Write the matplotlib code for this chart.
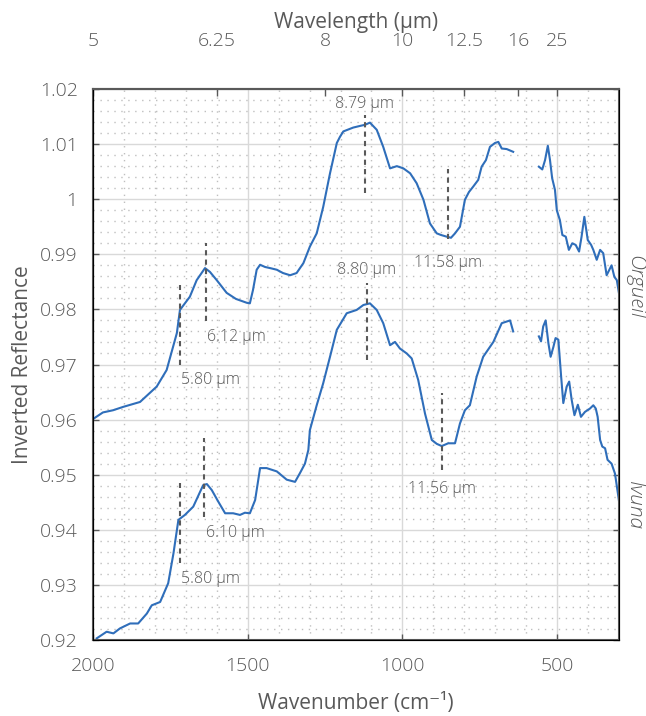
import numpy as np
import matplotlib
matplotlib.use('Agg')
import matplotlib.pyplot as plt
from matplotlib.ticker import MultipleLocator, FixedLocator

# Orgueil spectrum (wavenumber cm-1, inverted reflectance); NaN marks the gap
orgueil_wn = [2000, 1968, 1935, 1903, 1848, 1794, 1762, 1729, 1719, 1687, 1665, 1638, 1622, 1600,
              1568, 1538, 1503, 1493, 1483, 1471, 1460, 1444, 1428, 1406, 1386, 1363, 1342, 1320,
              1299, 1277, 1256, 1234, 1212, 1202, 1191, 1159, 1137, 1121, 1105, 1083, 1062, 1040,
              1018, 997, 975, 954, 932, 911, 889, 875, 857, 843, 830, 814, 798, 785, 771, 755,
              744, 730, 717, 701, 690, 679, 663, 642, 600,
              559, 548, 539, 530, 523, 516, 507, 501, 491, 483, 472, 462, 451, 440, 429, 421,
              412, 401, 390, 383, 372, 361, 351, 340, 324, 315, 307, 300]
orgueil_r = [0.9601, 0.9613, 0.9617, 0.9623, 0.9632, 0.9660, 0.9690, 0.9757, 0.9799, 0.9823,
             0.9853, 0.9875, 0.9868, 0.9853, 0.9830, 0.9819, 0.9812, 0.9811, 0.9835, 0.9872,
             0.9881, 0.9877, 0.9875, 0.9872, 0.9866, 0.9862, 0.9866, 0.9884, 0.9914, 0.9938,
             0.9986, 1.0047, 1.0102, 1.0113, 1.0123, 1.0130, 1.0133, 1.0135, 1.0139, 1.0126,
             1.0095, 1.0056, 1.0060, 1.0056, 1.0047, 1.0029, 0.9999, 0.9956, 0.9938, 0.9935,
             0.9932, 0.9930, 0.9938, 0.9950, 0.9999, 1.0013, 1.0023, 1.0035, 1.0059, 1.0071,
             1.0095, 1.0102, 1.0104, 1.0092, 1.0091, 1.0086, np.nan,
             1.0059, 1.0054, 1.0071, 1.0097, 1.0071, 1.0038, 1.0017, 0.9980, 0.9962, 0.9935,
             0.9932, 0.9908, 0.9920, 0.9917, 0.9905, 0.9932, 0.9968, 0.9926, 0.9917, 0.9908,
             0.9890, 0.9908, 0.9902, 0.9862, 0.9880, 0.9859, 0.9853, 0.9829]

# Ivuna spectrum
ivuna_wn = [1988, 1956, 1934, 1913, 1880, 1854, 1826, 1810, 1783, 1757, 1740, 1724, 1703, 1676,
            1644, 1632, 1616, 1595, 1573, 1547, 1525, 1509, 1493, 1476, 1460, 1439, 1406, 1374,
            1347, 1331, 1315, 1304, 1299, 1277, 1256, 1234, 1212, 1180, 1148, 1126, 1105, 1083,
            1062, 1040, 1024, 1008, 986, 970, 949, 927, 905, 889, 873, 852, 830, 814, 798, 782,
            760, 739, 706, 679, 652, 642, 600,
            559, 552, 545, 537, 528, 521, 512, 505, 496, 487, 480, 469, 461, 453, 444, 433, 423,
            410, 394, 383, 375, 369, 361, 354, 345, 337, 324, 313, 302, 300]
ivuna_r = [0.9203, 0.9215, 0.9212, 0.9221, 0.9230, 0.9230, 0.9248, 0.9263, 0.9269, 0.9303,
           0.9357, 0.9418, 0.9427, 0.9442, 0.9481, 0.9483, 0.9472, 0.9451, 0.9430, 0.9430,
           0.9427, 0.9431, 0.9430, 0.9454, 0.9512, 0.9512, 0.9506, 0.9491, 0.9487, 0.9503,
           0.9520, 0.9545, 0.9581, 0.9626, 0.9666, 0.9714, 0.9763, 0.9793, 0.9799, 0.9808,
           0.9811, 0.9799, 0.9775, 0.9735, 0.9741, 0.9729, 0.9720, 0.9711, 0.9672, 0.9611,
           0.9563, 0.9556, 0.9552, 0.9557, 0.9557, 0.9593, 0.9617, 0.9626, 0.9678, 0.9714,
           0.9741, 0.9775, 0.9780, 0.9760, np.nan,
           0.9751, 0.9742, 0.9769, 0.9780, 0.9738, 0.9714, 0.9732, 0.9748, 0.9745, 0.9678,
           0.9630, 0.9660, 0.9669, 0.9636, 0.9608, 0.9627, 0.9605, 0.9614, 0.9620, 0.9626,
           0.9620, 0.9605, 0.9563, 0.9551, 0.9548, 0.9527, 0.9520, 0.9502, 0.9460, 0.9452]

# band markers: wavenumber, dashed line bottom/top, label
band_wn = [1719, 1636, 1121, 852, 1719, 1640, 1115, 873]
band_lo = [0.9699, 0.9779, 1.0011, 0.9928, 0.9340, 0.9423, 0.9708, 0.9509]
band_hi = [0.9844, 0.9921, 1.0153, 1.0055, 0.9485, 0.9567, 0.9848, 0.9648]
band_lab = ['5.80 µm', '6.12 µm', '8.79 µm', '11.58 µm',
            '5.80 µm', '6.10 µm', '8.80 µm', '11.56 µm']
# label anchor (y value) and alignment
band_lab_y = [0.9672, 0.9750, 1.0173, 0.9884, 0.9311, 0.9394, 0.9872, 0.9474]
band_ha = ['left', 'left', 'center', 'center', 'left', 'left', 'center', 'center']

top_tick_wn = [2000, 1600, 1250, 1000, 800, 625, 500]
top_tick_lab = ['5', '6.25', '8', '10', '12.5', '16', '25']

txt = '#595959'
blue = '#2F6EBA'
plt.rcParams['font.family'] = ['Open Sans', 'DejaVu Sans']
plt.rcParams['font.weight'] = 'light'

fig = plt.figure(figsize=(6.46, 7.16), dpi=100)
ax = fig.add_axes([93 / 646, 1 - 640 / 716, 526 / 646, 551 / 716])

ax.plot(orgueil_wn, orgueil_r, color=blue, lw=1.5)
ax.plot(ivuna_wn, ivuna_r, color=blue, lw=1.5)

for i in range(len(band_wn)):
    ax.plot([band_wn[i], band_wn[i]], [band_lo[i], band_hi[i]], color=txt, lw=1.5,
            ls=(0, (2.5, 2)))
    lx = band_wn[i] - 5 if band_ha[i] == 'left' else band_wn[i]
    ax.text(lx, band_lab_y[i], band_lab[i], ha=band_ha[i], va='center', fontsize=11.5, color=txt)

ax.set_xlim(2000, 300)
ax.set_ylim(0.92, 1.02)
ax.xaxis.set_major_locator(FixedLocator([2000, 1500, 1000, 500]))
ax.xaxis.set_minor_locator(MultipleLocator(100))
ax.yaxis.set_minor_locator(MultipleLocator(0.002))
yt = np.round(np.arange(0.92, 1.0201, 0.01), 2)
ax.set_yticks(yt)
ax.set_yticklabels(['1' if abs(v - 1) < 1e-9 else ('%.2f' % v) for v in yt])

ax.grid(which='major', color='#d9d9d9', lw=1)
ax.grid(which='minor', color='#bfbfbf', lw=1, ls=(0, (1, 4)))
ax.set_axisbelow(True)

ax.tick_params(which='major', direction='in', length=4, width=1, color=txt,
               labelsize=14, labelcolor=txt, right=True)
ax.tick_params(axis='x', which='major', pad=12)
ax.tick_params(axis='y', which='major', pad=11)
ax.tick_params(which='minor', length=0)
for s in ax.spines.values():
    s.set_color(txt)
    s.set_linewidth(1.5)

ax.set_xlabel('Wavenumber (cm⁻¹)', fontsize=15, color=txt, labelpad=13)
ax.set_ylabel('Inverted Reflectance', fontsize=15, color=txt, labelpad=5)

top = ax.twiny()
top.set_xlim(ax.get_xlim())
top.set_xticks(top_tick_wn)
top.set_xticklabels(top_tick_lab)
top.tick_params(direction='in', length=5, width=1, color=txt, labelsize=14,
                labelcolor=txt, pad=28)
top.spines['top'].set_color(txt)
top.spines['top'].set_linewidth(1.5)
top.set_xlabel('Wavelength (µm)', fontsize=15, color=txt, labelpad=3)

ax.text(1.01, 0.64, 'Orgueil', transform=ax.transAxes, rotation=-90, ha='left',
        va='center', fontsize=15, style='italic', color=txt)
ax.text(1.01, 0.245, 'Ivuna', transform=ax.transAxes, rotation=-90, ha='left',
        va='center', fontsize=15, style='italic', color=txt)

fig.savefig('out.png', dpi=100)
